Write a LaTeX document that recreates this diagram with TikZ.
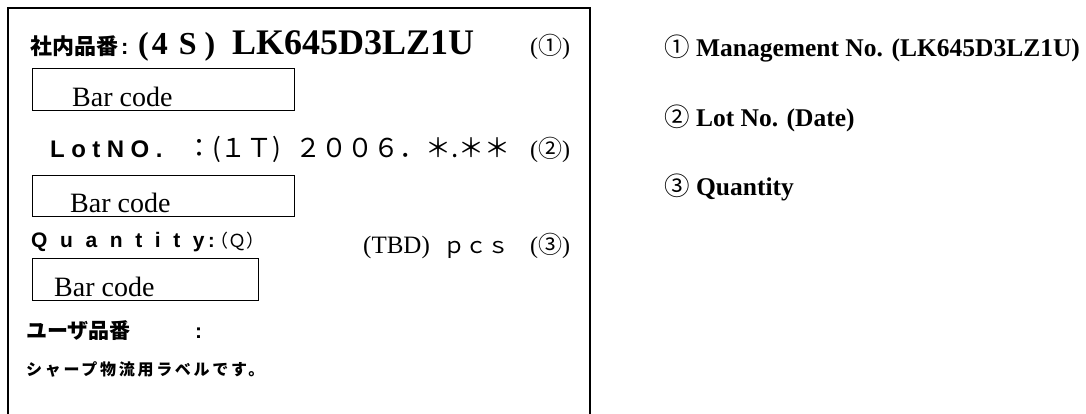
\documentclass[tikz,border=0pt]{standalone}
\usepackage{fontspec}
\setmainfont{Liberation Serif}
\newfontfamily\jpfont{Noto Sans CJK JP}
\newfontfamily\jpfontsp[LetterSpace=17]{Noto Sans CJK JP}
\newfontfamily\gothic{Liberation Sans}
\newfontfamily\gothiclot[LetterSpace=27]{Liberation Sans}
\newfontfamily\gothicqty[LetterSpace=60]{Liberation Sans}
\usetikzlibrary{positioning}

\begin{document}
\begin{tikzpicture}[x=1pt,y=-1pt,
    lbl/.style={anchor=base west,inner sep=0pt},
    barbox/.style={draw,line width=1.2pt,anchor=north west,inner sep=0pt},
    bartext/.style={lbl,font=\fontsize{28}{28}\selectfont},
    circmark/.style={lbl,font=\fontsize{24}{24}\selectfont},
    note/.style={lbl,font=\bfseries\fontsize{25.5}{25.5}\selectfont}]
    \useasboundingbox (0,0) rectangle (1086,414);

    % label frame (open at the bottom)
    \draw[line width=1.5pt] (8,414) -- (8,8) -- (590,8) -- (590,414);

    % management no.
    \node[lbl] (hinban) at (30,55) {\jpfont\bfseries\fontsize{22}{22}\selectfont 社内品番};
    \node[lbl] (hcolon) at (121,55) {\gothic\bfseries\fontsize{22}{22}\selectfont :};
    \node[lbl] (hfs) at (138,55) {\bfseries\fontsize{32}{32}\selectfont (\kern3pt 4\kern11pt S\kern8pt)};
    \node[lbl] (hnum) at (232,55) {\bfseries\fontsize{36}{36}\selectfont LK645D3LZ1U};
    \node[circmark] (hmark) at (530,55) {(\jpfont ①\rmfamily)};
    \node[barbox,minimum width=262pt,minimum height=42pt] (bc1) at (32,68) {};
    \node[bartext] (bc1t) at (72,107) {Bar code};

    % lot no.
    \node[lbl] (lot) at (50,158) {\gothiclot\bfseries\fontsize{24}{24}\selectfont LotNO.};
    \node[lbl] (lotval) at (186,158) {\jpfont\fontsize{26}{26}\selectfont ：(１Ｔ)\hspace{14pt}２００６．＊.＊＊};
    \node[circmark] (lotmark) at (530,158) {(\jpfont ②\rmfamily)};
    \node[barbox,minimum width=262pt,minimum height=41pt] (bc2) at (32,175) {};
    \node[bartext] (bc2t) at (70,212) {Bar code};

    % quantity
    \node[lbl] (qty) at (31,247) {\gothicqty\bfseries\fontsize{21}{21}\selectfont Quantity};
    \node[lbl] (qtyval) at (208,247) {\gothic\bfseries\fontsize{20}{20}\selectfont :\kern-4pt\jpfont\mdseries\fontsize{18}{18}\selectfont （Ｑ）};
    \node[lbl] (tbd) at (363,253) {\fontsize{25}{25}\selectfont (TBD)};
    \node[lbl] (pcs) at (443,253) {\jpfont\fontsize{22}{22}\selectfont ｐｃｓ};
    \node[circmark] (qmark) at (530,253) {(\jpfont ③\rmfamily)};
    \node[barbox,minimum width=226pt,minimum height=42pt] (bc3) at (32,258) {};
    \node[bartext] (bc3t) at (54,296) {Bar code};

    % user no. and note
    \node[lbl] (user) at (26,338) {\jpfont\bfseries\fontsize{21}{21}\selectfont ユーザ品番};
    \node[lbl] (ucolon) at (195,338) {\gothic\bfseries\fontsize{21}{21}\selectfont :};
    \node[lbl] (sharp) at (26,375) {\jpfontsp\bfseries\fontsize{16}{16}\selectfont シャープ物流用ラベルです。};

    % explanations
    \node[note] (n1) at (664,57) {\jpfont\mdseries ①\rmfamily\bfseries\ Management No. (LK645D3LZ1U)};
    \node[note] (n2) at (664,127) {\jpfont\mdseries ②\rmfamily\bfseries\ Lot No. (Date)};
    \node[note] (n3) at (664,195) {\jpfont\mdseries ③\rmfamily\bfseries\ Quantity};
\end{tikzpicture}
\end{document}
